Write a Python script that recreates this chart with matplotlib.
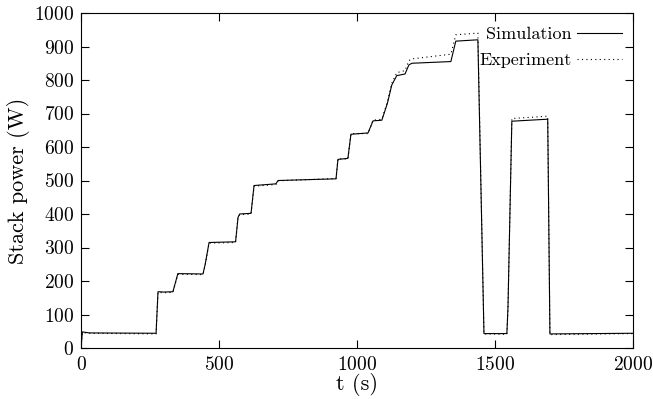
# Stack power: simulation vs experiment
import matplotlib
matplotlib.use('Agg')
import matplotlib.pyplot as plt

plt.rcParams['font.family'] = 'cmr10'
plt.rcParams['axes.formatter.use_mathtext'] = True
plt.rcParams['mathtext.fontset'] = 'cm'

# simulation trace (t in s, power in W)
sim_t = [0, 5, 30, 272, 279, 300, 333, 351, 442, 450, 464, 560, 569, 575, 616, 627,
         706, 714, 924, 931, 967, 978, 1040, 1058, 1090, 1110, 1126, 1144, 1174, 1188,
         1199, 1340, 1358, 1438, 1460, 1543, 1547, 1561, 1691, 1699, 2000]
sim_p = [0, 48, 45, 44, 168, 167, 168, 222, 221, 250, 315, 317, 390, 400, 402, 485,
         490, 500, 505, 563, 566, 638, 642, 678, 680, 730, 785, 813, 818, 845,
         850, 855, 916, 920, 43, 43, 120, 677, 683, 42, 44]

# experiment trace
exp_t = [0, 5, 30, 272, 279, 300, 333, 351, 442, 450, 464, 560, 569, 575, 616, 627,
         706, 714, 924, 931, 967, 978, 1040, 1058, 1090, 1110, 1126, 1144, 1174, 1188,
         1199, 1340, 1358, 1438, 1460, 1543, 1547, 1561, 1691, 1699, 2000]
exp_p = [0, 46, 44, 42, 166, 165, 166, 220, 219, 248, 313, 315, 392, 398, 400, 483,
         488, 499, 506, 565, 564, 640, 640, 680, 683, 735, 790, 822, 828, 858,
         863, 877, 935, 940, 42, 41, 115, 685, 692, 40, 43]

fig = plt.figure(figsize=(6.53, 3.99), dpi=100)
ax = fig.add_axes([81 / 653, 1 - 348 / 399, (633 - 81) / 653, (348 - 13) / 399])

ax.plot(sim_t, sim_p, color='black', lw=0.8, label='Simulation')
ax.plot(exp_t, exp_p, color='black', lw=0.8, ls=(0, (1, 3)), label='Experiment')

ax.set_xlim(0, 2000)
ax.set_ylim(0, 1000)
ax.set_xticks([0, 500, 1000, 1500, 2000])
ax.set_yticks(range(0, 1001, 100))
ax.tick_params(direction='in', top=True, right=True, length=6, width=0.8,
               labelsize=14)
ax.tick_params(axis='x', pad=6)
ax.tick_params(axis='y', pad=5)
for s in ax.spines.values():
    s.set_linewidth(0.8)

ax.set_xlabel('t (s)', fontsize=16, labelpad=-1)
ax.set_ylabel('Stack power (W)', fontsize=16, labelpad=3)

ax.legend(loc='upper right', bbox_to_anchor=(0.99, 0.975), frameon=False,
          markerfirst=False, fontsize=13, handlelength=2.5, handletextpad=0.3,
          labelspacing=0.55, borderpad=0, borderaxespad=0.3)

fig.savefig('out.png', dpi=100)
